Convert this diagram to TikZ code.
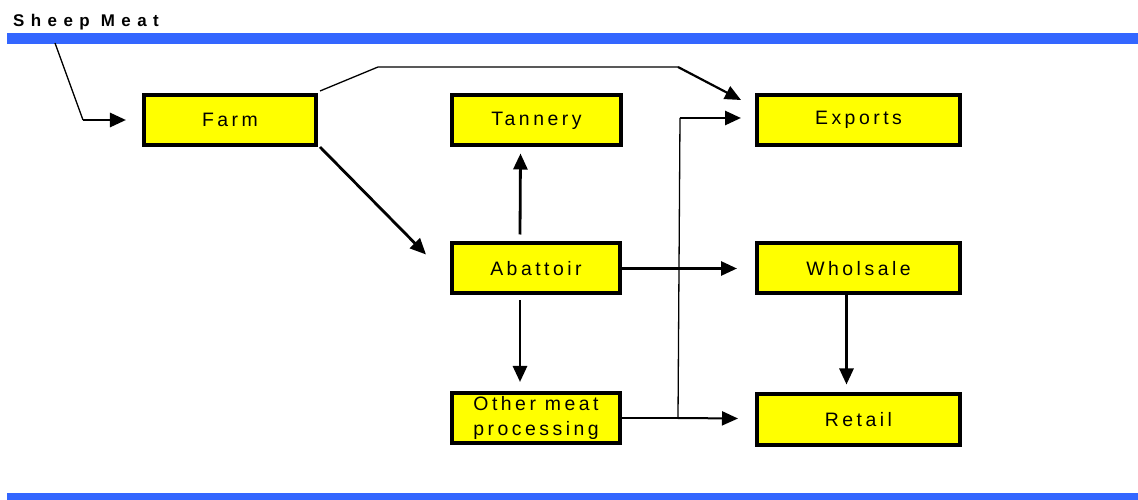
\documentclass[tikz,border=0pt]{standalone}
\usepackage{fontspec}
\setmainfont{Liberation Sans}
\newfontfamily\boxfont[LetterSpace=18]{Liberation Sans}
\newfontfamily\titlefont[LetterSpace=38]{Liberation Sans Bold}
\usetikzlibrary{arrows.meta,calc}
\definecolor{barblue}{RGB}{51,102,255}
\definecolor{boxyellow}{RGB}{255,255,0}
\begin{document}
\begin{tikzpicture}[x=1bp,y=-1bp,
  flowbox/.style={draw=black,line width=4bp,fill=boxyellow,inner sep=0pt,
    minimum height=50bp,font=\boxfont\fontsize{19.5}{25}\selectfont,align=center},
  thickarrow/.style={line width=2.8bp,-{Triangle[length=16bp,width=14bp]}},
  thinline/.style={line width=1.3bp}]
\useasboundingbox (0,0) rectangle (1138,500);
% bars
\fill[barblue] (7,33) rectangle (1138,44);
\fill[barblue] (7,493) rectangle (1138,500);
\node[anchor=base west,inner sep=0pt,font=\titlefont\fontsize{17}{19}\selectfont] (title) at (13,27) {Sheep Meat};
% boxes
\node[flowbox,minimum width=172bp] (farm) at (230,120) {Farm};
\node[flowbox,minimum width=169bp] (tannery) at (536.5,120.5) {Tannery};
\node[flowbox,minimum width=203bp] (exports) at (858.5,120) {Exports};
\node[flowbox,minimum width=168bp] (abattoir) at (536,268.5) {Abattoir};
\node[flowbox,minimum width=203bp] (wholsale) at (858.5,268.5) {Wholsale};
\node[flowbox,minimum width=168bp,font=\boxfont\fontsize{19.5}{25}\selectfont] (other) at (536,418) {Other meat\\processing};
\node[flowbox,minimum width=203bp] (retail) at (858.5,419.5) {Retail};
% entry
\coordinate (start) at (55,43);
\coordinate (bend) at (83,120);
\draw[thinline] (start) -- (bend);
\draw[thickarrow] (bend) -- ($(farm.west)+(-16,0)$);
% farm to exports
\coordinate (fe1) at (378,67);
\coordinate (fe2) at (678,67);
\draw[thinline] ($(farm.north east)+(2,-2)$) -- (fe1) -- (fe2);
\draw[line width=2.2bp,-{Triangle[length=16bp,width=14bp]}] (fe2) -- ($(exports.north west)+(-14,7)$);
% farm to abattoir
\draw[thickarrow] ($(farm.south east)+(2,0)$) -- ($(abattoir.north west)+(-24,13)$);
% abattoir links
\draw[thickarrow] ($(abattoir.north)+(-16,-7)$) -- ($(tannery.south)+(-16,6)$);
\draw[thickarrow] ($(abattoir.south)+(-16,5)$) -- ($(other.north)+(-16,-9)$);
\draw[thickarrow] (abattoir.east) -- ($(wholsale.west)+(-18,0)$);
\draw[thickarrow] ($(wholsale.south)+(-12,0)$) -- ($(retail.north)+(-12,-8)$);
% other meat processing
\coordinate (junction) at (678,418);
\coordinate (corner) at (680,118);
\draw[line width=2bp] (other.east |- junction) -- (junction);
\draw[line width=2bp,-{Triangle[length=16bp,width=14bp]}] (junction) -- ($(retail.west)+(-17,-1)$);
\draw[thinline] (junction) -- (corner);
\draw[thickarrow] (corner) -- ($(exports.west)+(-14,-2)$);
\end{tikzpicture}
\end{document}
